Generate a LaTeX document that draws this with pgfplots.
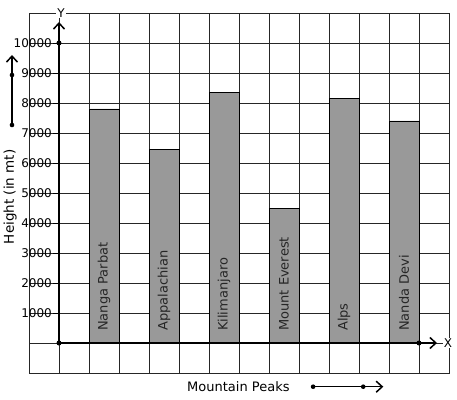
\documentclass[border=0pt]{standalone}
\usepackage{pgfplots}
\pgfplotsset{compat=1.18}
\usepackage{fontspec}
\setmainfont{DejaVu Sans}
\usetikzlibrary{arrows.meta}
\definecolor{barfill}{RGB}{153,153,153}
\tikzset{barlab/.style={rotate=90, anchor=west, inner sep=0pt, text=black!85, font=\fontsize{13}{15}\selectfont}}
\begin{document}
\begin{tikzpicture}
\begin{axis}[name=gridax, at={(0,0)}, anchor=south west, scale only axis,
  width=420pt, height=360pt,
  xmin=-1, xmax=13, ymin=-1000, ymax=11000,
  xtick={-1,0,...,13}, ytick={-1000,0,...,11000},
  xticklabels={}, yticklabels={},
  scaled ticks=false,
  major tick length=0pt,
  grid=major, grid style={black!85, line width=0.7pt},
  axis line style={black!85, line width=0.7pt},
  clip=false]
\addplot[ybar, bar width=1, fill=barfill, draw=black, line width=0.9pt]
  coordinates {(1.5,7800) (3.5,6450) (5.5,8350) (7.5,4500) (9.5,8150) (11.5,7400)};
\node[barlab] at (axis cs:1.5,400) {Nanga Parbat};
\node[barlab] at (axis cs:3.5,400) {Appalachian};
\node[barlab] at (axis cs:5.5,400) {Kilimanjaro};
\node[barlab] at (axis cs:7.5,400) {Mount Everest};
\node[barlab] at (axis cs:9.5,400) {Alps};
\node[barlab] at (axis cs:11.5,400) {Nanda Devi};
\node[rotate=90, font=\fontsize{13.5}{15}\selectfont] at (axis cs:-1.63,4870) {Height (in mt)};
\node[fill=white, inner sep=1pt, font=\fontsize{12}{14}\selectfont] at (axis cs:0.07,11000) {Y};
\node[fill=white, inner sep=1pt, font=\fontsize{12}{14}\selectfont] at (axis cs:12.97,0) {X};
\node[font=\fontsize{13}{15}\selectfont] at (axis cs:5.98,-1450) {Mountain Peaks};
\draw[line width=1.5pt, -{Straight Barb[length=6pt,width=11pt,line width=1.5pt]}] (axis cs:-1.567,7267) -- (axis cs:-1.567,9600);
\fill (axis cs:-1.567,7267) circle[radius=2.3pt];
\fill (axis cs:-1.567,8933) circle[radius=2.3pt];
\draw[line width=1.5pt, -{Straight Barb[length=6pt,width=11pt,line width=1.5pt]}] (axis cs:8.47,-1457) -- (axis cs:10.81,-1457);
\fill (axis cs:8.47,-1457) circle[radius=2.3pt];
\fill (axis cs:10.14,-1457) circle[radius=2.3pt];
\end{axis}
\begin{axis}[at={(30pt,30pt)}, anchor=south west, scale only axis,
  width=378pt, height=321pt,
  xmin=0, xmax=12.6, ymin=0, ymax=10700,
  axis lines=left,
  axis line style={line width=1.5pt, -{Straight Barb[length=6pt,width=11pt,line width=1.5pt]}},
  xtick=\empty, ytick={1000,2000,...,10000},
  scaled ticks=false,
  tick align=outside, major tick length=6pt,
  ytick style={line width=0.8pt, black},
  yticklabel style={font=\fontsize{12}{14}\selectfont, inner sep=1pt},
  /pgf/number format/assume math mode=true,
  /pgf/number format/1000 sep={},
  clip=false]
\fill (axis cs:0,0) circle[radius=2.5pt];
\fill (axis cs:0,10000) circle[radius=2.5pt];
\fill (axis cs:12,0) circle[radius=2.5pt];
\end{axis}
\pgfresetboundingbox
\path[use as bounding box] (-29pt,-26pt) rectangle (428pt,373pt);
\end{tikzpicture}
\end{document}
